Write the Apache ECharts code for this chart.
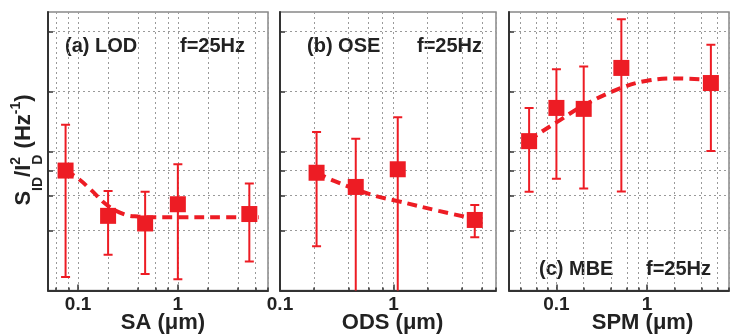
<!DOCTYPE html>
<html>
<head>
<meta charset="utf-8">
<script src="https://cdn.jsdelivr.net/npm/echarts@6/dist/echarts.min.js"></script>
<style>
  html, body { margin: 0; padding: 0; background: #fff; }
  #chart { width: 742px; height: 335px; }
</style>
</head>
<body>
<div id="chart"></div>
<script>
// Panel (a): LOD, noise vs SA
const saX = [0.075, 0.2, 0.47, 1.0, 5.2];
const saNoise = [4.0, 2.37, 2.17, 2.71, 2.42];
const saUpper = [6.8, 3.16, 3.13, 4.3, 3.44];
const saLower = [1.17, 1.51, 1.21, 1.14, 1.40];
const saFitX = [0.075, 0.1, 0.133, 0.2, 0.3, 0.4, 0.6, 1, 3, 6.5];
const saFitY = [4.0, 3.65, 3.22, 2.66, 2.4, 2.35, 2.33, 2.33, 2.33, 2.33];

// Panel (b): OSE, noise vs ODS
const odsX = [0.21, 0.465, 1.09, 5.2];
const odsNoise = [3.9, 3.31, 4.06, 2.26];
const odsUpper = [6.24, 5.77, 7.41, 2.69];
const odsLower = [1.67, 0.8, 0.8, 1.85];
const odsFitX = [0.21, 0.3, 0.465, 0.7, 1.09, 2.5, 5.2];
const odsFitY = [3.9, 3.55, 3.22, 2.98, 2.81, 2.51, 2.29];

// Panel (c): MBE, noise vs SPM
const spmX = [0.05, 0.1, 0.2, 0.52, 5.05];
const spmNoise = [5.62, 8.25, 8.16, 13.1, 11.0];
const spmUpper = [8.25, 12.9, 13.3, 23.0, 17.1];
const spmLower = [3.13, 3.64, 3.25, 3.14, 5.01];
const spmFitX = [0.05, 0.063, 0.1, 0.2, 0.52, 1, 2, 5.05];
const spmFitY = [5.62, 6.1, 6.98, 8.5, 10.4, 11.3, 11.6, 11.4];

// Axis ticks and labels
const yGridValues = [2, 3, 4, 5, 10, 20];
const xMinorValues = [0.04, 0.06, 0.08, 0.1, 0.2, 0.4, 0.6, 0.8, 1, 2, 4, 6, 8];
const xLabelValues = [0.1, 1];
const panelTags = ['(a) LOD', '(b) OSE', '(c) MBE'];
const freqTag = 'f=25Hz';
const xNames = ['SA (\u03bcm)', 'ODS (\u03bcm)', 'SPM (\u03bcm)'];

const FONT = '"Liberation Sans", Arial, Helvetica, sans-serif';
const RED = '#ed1c24';
const INK = '#222';
const AXIS = '#333';

const panels = [
  { left: 48, width: 220, xmin: 0.05, xmax: 8, nameShift: 5,
    x: saX, y: saNoise, hi: saUpper, lo: saLower, fx: saFitX, fy: saFitY },
  { left: 280, width: 216, xmin: 0.1, xmax: 8, nameShift: 4.5,
    x: odsX, y: odsNoise, hi: odsUpper, lo: odsLower, fx: odsFitX, fy: odsFitY },
  { left: 509, width: 220, xmin: 0.03, xmax: 8, nameShift: 23.5,
    x: spmX, y: spmNoise, hi: spmUpper, lo: spmLower, fx: spmFitX, fy: spmFitY }
];

const grids = [], xAxes = [], yAxes = [], series = [];

panels.forEach((p, i) => {
  grids.push({
    left: p.left, width: p.width, top: 12, bottom: 44.5,
    containLabel: false, outerBoundsMode: 'none',
    show: true, borderColor: '#888', borderWidth: 1.5, backgroundColor: 'transparent'
  });
  const inRange = xMinorValues.filter(v => v >= p.xmin && v <= p.xmax);
  // main axis: minor ticks, dotted grid, labels, name
  xAxes.push({
    type: 'log', logBase: 10, gridIndex: i, min: p.xmin, max: p.xmax, position: 'bottom',
    axisLine: { show: true, lineStyle: { color: AXIS, width: 2 } },
    axisTick: { show: true, inside: true, length: 3, customValues: inRange,
                lineStyle: { color: AXIS, width: 1.5 } },
    axisLabel: { show: true, customValues: xLabelValues, margin: 5,
                 color: INK, fontFamily: FONT, fontWeight: 'bold', fontSize: 19,
                 formatter: v => String(+Number(v).toPrecision(3)) },
    splitLine: { show: true, lineStyle: { color: '#9a9a9a', width: 1, type: [2, 3] } },
    minorTick: { show: false }, minorSplitLine: { show: false },
    name: xNames[i], nameLocation: 'middle', nameGap: 21, nameMoveOverlap: false,
    nameTextStyle: { color: INK, fontFamily: FONT, fontWeight: 'bold', fontSize: 22,
                     lineHeight: 22, padding: [0, 0, 0, p.nameShift * 2] }
  });
  // overlay axis carrying the longer decade ticks
  xAxes.push({
    type: 'log', logBase: 10, gridIndex: i, min: p.xmin, max: p.xmax, position: 'bottom', offset: 0,
    axisLine: { show: false },
    axisTick: { show: true, inside: true, length: 6, customValues: xLabelValues.filter(v => v >= p.xmin && v <= p.xmax),
                lineStyle: { color: AXIS, width: 1.5 } },
    axisLabel: { show: false }, splitLine: { show: false }
  });
  yAxes.push({
    type: 'log', logBase: 10, gridIndex: i, min: 1, max: 25,
    axisLine: { show: true, lineStyle: { color: AXIS, width: 2 } },
    axisTick: { show: true, inside: true, length: 5, customValues: yGridValues,
                lineStyle: { color: AXIS, width: 1.5 } },
    axisLabel: { show: false },
    splitLine: { show: true, lineStyle: { color: '#9a9a9a', width: 1, type: [2, 3] } },
    minorTick: { show: false }, minorSplitLine: { show: false }
  });

  const xi = i * 2;
  series.push({
    type: 'line', xAxisIndex: xi, yAxisIndex: i, smooth: 0.4, symbol: 'none', z: 3,
    data: p.fx.map((v, k) => [v, p.fy[k]]),
    lineStyle: { color: RED, width: 4, type: [10, 6] }, silent: true
  });
  series.push({
    type: 'custom', xAxisIndex: xi, yAxisIndex: i, clip: true, z: 4, silent: true,
    data: p.x.map((v, k) => [v, p.lo[k], p.hi[k]]),
    encode: { x: 0, y: [1, 2] },
    renderItem: (params, api) => {
      const top = api.coord([api.value(0), api.value(2)]);
      const bot = api.coord([api.value(0), api.value(1)]);
      const half = 4.5;
      const st = { stroke: RED, lineWidth: 2 };
      return {
        type: 'group',
        children: [
          { type: 'line', shape: { x1: top[0], y1: top[1], x2: bot[0], y2: bot[1] }, style: st },
          { type: 'line', shape: { x1: top[0] - half, y1: top[1], x2: top[0] + half, y2: top[1] }, style: st },
          { type: 'line', shape: { x1: bot[0] - half, y1: bot[1], x2: bot[0] + half, y2: bot[1] }, style: st }
        ]
      };
    }
  });
  series.push({
    type: 'scatter', xAxisIndex: xi, yAxisIndex: i, symbol: 'rect', symbolSize: 16, z: 5,
    data: p.x.map((v, k) => [v, p.y[k]]),
    itemStyle: { color: RED, opacity: 1 }, silent: true
  });
});

// Panel annotations
const tagStyle = { fill: INK, font: 'bold 20px ' + FONT };
const graphics = [
  { type: 'text', x: 65, y: 46, style: Object.assign({ text: panelTags[0], verticalAlign: 'middle' }, tagStyle) },
  { type: 'text', x: 180, y: 46, style: Object.assign({ text: freqTag, verticalAlign: 'middle' }, tagStyle) },
  { type: 'text', x: 307, y: 46, style: Object.assign({ text: panelTags[1], verticalAlign: 'middle' }, tagStyle) },
  { type: 'text', x: 417, y: 46, style: Object.assign({ text: freqTag, verticalAlign: 'middle' }, tagStyle) },
  { type: 'text', x: 539, y: 269, style: Object.assign({ text: panelTags[2], verticalAlign: 'middle' }, tagStyle) },
  { type: 'text', x: 646, y: 269, style: Object.assign({ text: freqTag, verticalAlign: 'middle' }, tagStyle) }
];

// Rotated y-axis title S_ID / I_D^2 (Hz^-1), laid out piece by piece
const measureCtx = document.createElement('canvas').getContext('2d');
function textWidth(t, size) {
  measureCtx.font = 'bold ' + size + 'px ' + FONT;
  return measureCtx.measureText(t).width;
}
const BIG = 22, SMALL = 14, SUB = 11, SUP = -11;
const titlePieces = [
  [{ t: 'S', s: BIG, dy: 0 }],
  [{ t: 'ID', s: SMALL, dy: SUB }],
  [{ t: '/', s: BIG, dy: 0 }],
  [{ t: 'I', s: BIG, dy: 0 }],
  [{ t: '2', s: SMALL, dy: SUP }, { t: 'D', s: SMALL, dy: SUB }],
  [{ t: ' (Hz', s: BIG, dy: 0 }],
  [{ t: '-1', s: SMALL, dy: SUP }],
  [{ t: ')', s: BIG, dy: 0 }]
];
const titleChildren = [];
let cursor = 0;
titlePieces.forEach(stack => {
  let adv = 0;
  stack.forEach(pc => {
    titleChildren.push({
      type: 'text', x: cursor, y: pc.dy - 0.3465 * pc.s,
      style: { text: pc.t, fill: INK, font: 'bold ' + pc.s + 'px ' + FONT,
               align: 'left', verticalAlign: 'middle' }
    });
    adv = Math.max(adv, textWidth(pc.t, pc.s));
  });
  cursor += adv;
});
graphics.push({
  type: 'group', x: 31.7, y: 150 + cursor / 2, rotation: Math.PI / 2,
  children: titleChildren
});

const chart = echarts.init(document.getElementById('chart'), null, { renderer: 'canvas' });
chart.setOption({
  animation: false,
  backgroundColor: '#fff',
  grid: grids,
  xAxis: xAxes,
  yAxis: yAxes,
  series: series,
  graphic: graphics
});
</script>
</body>
</html>
